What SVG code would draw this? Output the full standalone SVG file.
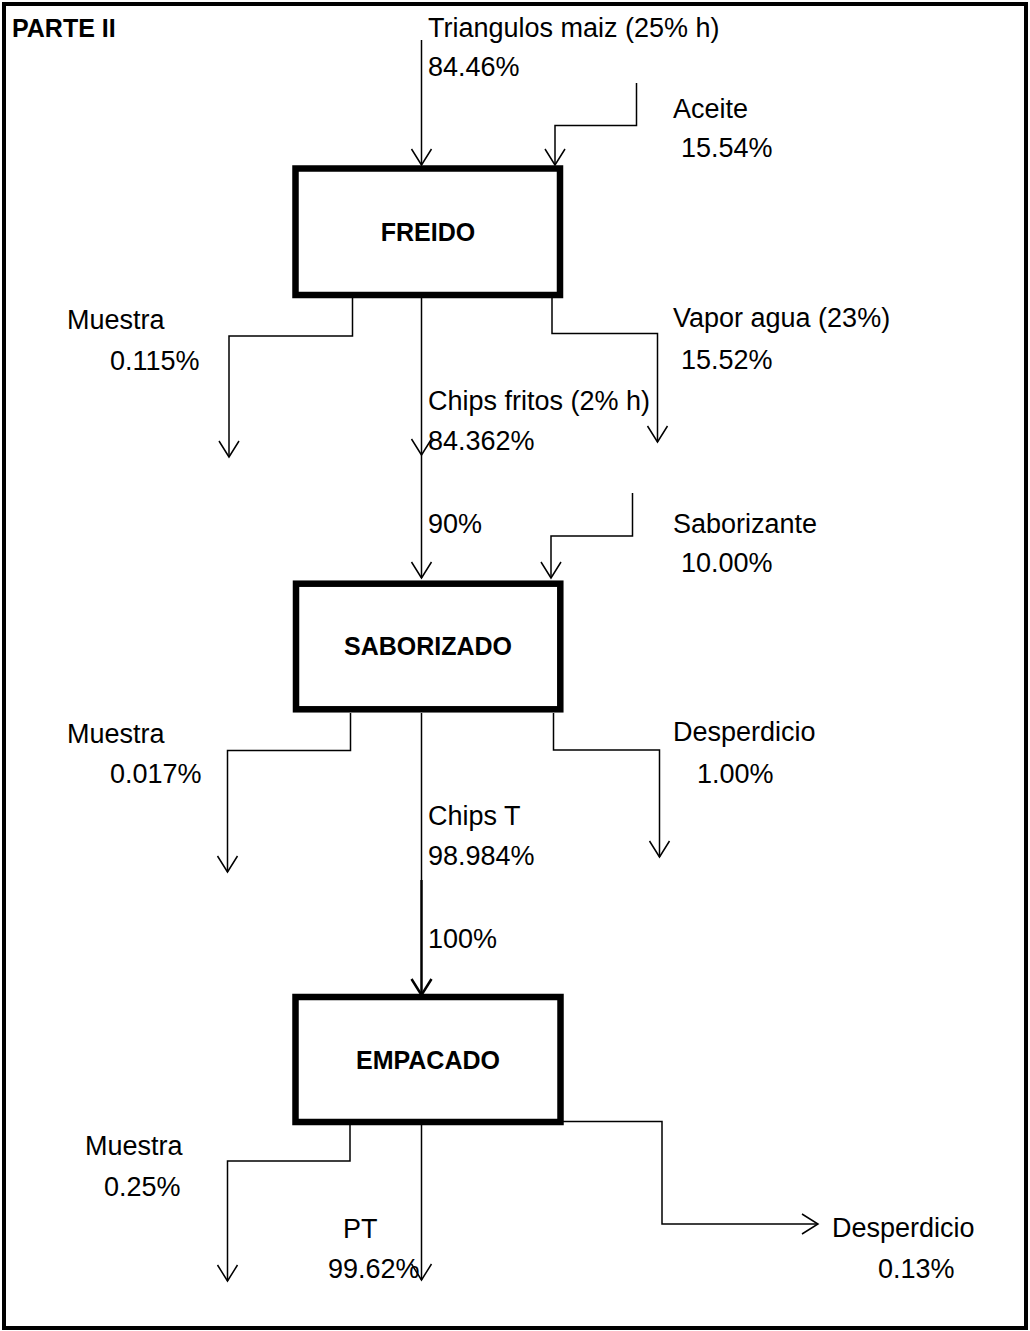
<svg xmlns="http://www.w3.org/2000/svg" width="1030" height="1331" viewBox="0 0 1030 1331">
  <defs>
    <style>
      .frame{fill:#fff;stroke:#000;stroke-width:4}
      .box rect{fill:#fff;stroke:#000;stroke-width:6.5}
      .box text,.title{font-family:"Liberation Sans",Arial,sans-serif;font-weight:bold;font-size:25px;fill:#000}
      .box text{text-anchor:middle}
      .flow{fill:none;stroke:#000;stroke-width:1.5;marker-end:url(#head)}
      .flow.bold{stroke-width:2.5;marker-end:url(#headBold)}
      .plain{fill:none;stroke:#000;stroke-width:1.5}
      .lbl{font-family:"Liberation Sans",Arial,sans-serif;font-size:27px;fill:#000}
    </style>
    <marker id="head" markerUnits="userSpaceOnUse" viewBox="-18 -12 20 24" refX="0" refY="0" markerWidth="20" markerHeight="24" orient="auto">
      <path d="M-16,-10 L0,0 L-16,10" fill="none" stroke="#000" stroke-width="1.5"/>
    </marker>
    <marker id="headBold" markerUnits="userSpaceOnUse" viewBox="-18 -12 20 24" refX="0" refY="0" markerWidth="20" markerHeight="24" orient="auto">
      <path d="M-16,-10 L0,0 L-16,10" fill="none" stroke="#000" stroke-width="2.5"/>
    </marker>
  </defs>

  <rect x="0" y="0" width="1030" height="1331" fill="#fff"/>
  <rect class="frame" x="4" y="4" width="1022" height="1324"/>
  <text class="title" x="12" y="37">PARTE II</text>

  <!-- flow lines between the process steps -->
  <g id="connectors">
    <path class="flow" d="M421.5,40 V165"/>
    <path class="flow" d="M636.5,83 V125.5 H555 V165"/>
    <path class="flow" d="M352.5,298 V336 H229 V457"/>
    <path class="flow" d="M552,298 V333.5 H657.5 V442"/>
    <path class="flow" d="M421.5,298 V455"/>
    <path class="flow" d="M421.5,455 V578"/>
    <path class="flow" d="M632.5,493 V536 H551 V578"/>
    <path class="flow" d="M350.5,713 V750.5 H227.5 V872"/>
    <path class="flow" d="M553.5,713 V750 H659.5 V857"/>
    <path class="plain" d="M421.5,713 V880"/>
    <path class="flow bold" d="M421.5,880 V995"/>
    <path class="flow" d="M350,1125 V1161 H227.5 V1281"/>
    <path class="flow" d="M421.5,1125 V1280"/>
    <path class="flow" d="M563,1121.5 H662 V1224 H818"/>
  </g>

  <!-- process steps -->
  <g id="freido" class="box">
    <rect x="295.5" y="168.5" width="264.5" height="126.5"/>
    <text x="428" y="241">FREIDO</text>
  </g>
  <g id="saborizado" class="box">
    <rect x="296" y="583.7" width="264.3" height="125.6"/>
    <text x="428" y="655">SABORIZADO</text>
  </g>
  <g id="empacado" class="box">
    <rect x="295.5" y="997" width="265" height="125"/>
    <text x="428" y="1069">EMPACADO</text>
  </g>

  <!-- stream names and mass percentages -->
  <g id="labels" class="lbl">
    <text x="428" y="37">Triangulos maiz (25% h)</text>
    <text x="428" y="76">84.46%</text>
    <text x="673" y="118">Aceite</text>
    <text x="681" y="157">15.54%</text>
    <text x="67" y="329">Muestra</text>
    <text x="110" y="370">0.115%</text>
    <text x="673" y="327">Vapor agua (23%)</text>
    <text x="681" y="369">15.52%</text>
    <text x="428" y="410">Chips fritos (2% h)</text>
    <text x="428" y="450">84.362%</text>
    <text x="428" y="533">90%</text>
    <text x="673" y="533">Saborizante</text>
    <text x="681" y="572">10.00%</text>
    <text x="67" y="743">Muestra</text>
    <text x="110" y="783">0.017%</text>
    <text x="673" y="741">Desperdicio</text>
    <text x="697" y="783">1.00%</text>
    <text x="428" y="825">Chips T</text>
    <text x="428" y="865">98.984%</text>
    <text x="428" y="948">100%</text>
    <text x="85" y="1155">Muestra</text>
    <text x="104" y="1196">0.25%</text>
    <text x="343" y="1238">PT</text>
    <text x="328" y="1278">99.62%</text>
    <text x="832" y="1237">Desperdicio</text>
    <text x="878" y="1278">0.13%</text>
  </g>
</svg>
